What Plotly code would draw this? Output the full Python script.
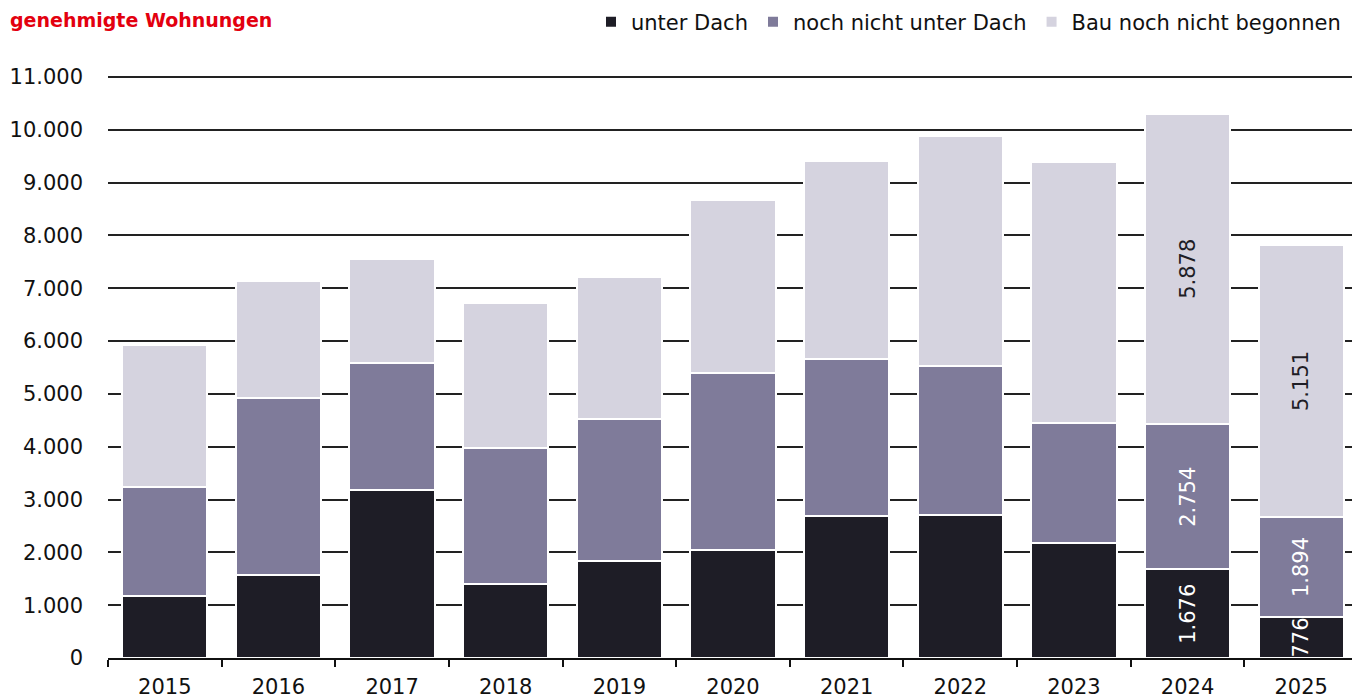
import plotly.graph_objects as go

# Genehmigte Wohnungen nach Baufortschritt
years = ["2015", "2016", "2017", "2018", "2019", "2020", "2021", "2022", "2023", "2024", "2025"]
unter_dach = [1175, 1570, 3180, 1400, 1840, 2050, 2690, 2710, 2180, 1676, 776]
noch_nicht_unter_dach = [2065, 3350, 2410, 2580, 2690, 3350, 2970, 2820, 2270, 2754, 1894]
bau_nicht_begonnen = [2690, 2220, 1970, 2740, 2690, 3270, 3750, 4360, 4940, 5878, 5151]

# only the latest two years carry value labels
labelled_years = {"2024", "2025"}

def fmt(v):
    return f"{v:,}".replace(",", ".")

def labels(values):
    return [fmt(v) if y in labelled_years else "" for y, v in zip(years, values)]

series = [
    ("unter Dach", unter_dach, "#1e1d26", "white"),
    ("noch nicht unter Dach", noch_nicht_unter_dach, "#7f7b9a", "white"),
    ("Bau noch nicht begonnen", bau_nicht_begonnen, "#d5d3df", "#1e1d26"),
]

FONT = "DejaVu Sans, Verdana, sans-serif"
FS = 21

fig = go.Figure()
for name, values, color, txtcolor in series:
    fig.add_trace(go.Bar(
        name=name,
        x=years,
        y=values,
        marker=dict(color=color, line=dict(color="white", width=2)),
        text=labels(values),
        textposition="inside",
        insidetextanchor="middle",
        textangle=-90,
        textfont=dict(family=FONT, size=FS, color=txtcolor),
        hoverinfo="x+y+name",
    ))

fig.update_layout(
    width=1352,
    height=699,
    barmode="stack",
    bargap=0.25,
    paper_bgcolor="white",
    plot_bgcolor="white",
    margin=dict(l=108, r=0, t=75, b=41),
    font=dict(family=FONT, size=FS, color="#111111"),
    uniformtext=dict(mode="show", minsize=FS),
    title=dict(
        text="<b>genehmigte Wohnungen</b>",
        x=10 / 1352,
        xanchor="left",
        xref="container",
        y=1 - 20 / 699,
        yanchor="middle",
        yref="container",
        font=dict(family=FONT, size=19, color="#e3000f"),
    ),
    legend=dict(
        orientation="h",
        x=1 - 6 / 1244,
        xanchor="right",
        y=1 + 53 / 583,
        yanchor="middle",
        font=dict(family=FONT, size=FS, color="#111111"),
        traceorder="normal",
        itemclick=False,
        itemdoubleclick=False,
    ),
    xaxis=dict(
        type="category",
        range=[-0.5, 10.447],
        showline=True,
        linecolor="#111111",
        linewidth=1.5,
        ticks="outside",
        tickson="boundaries",
        ticklen=7,
        tickcolor="#111111",
        tickwidth=1.5,
        showgrid=False,
        ticklabelstandoff=9,
        tickfont=dict(family=FONT, size=FS, color="#111111"),
    ),
    yaxis=dict(
        range=[0, 11038],
        tickvals=list(range(0, 11001, 1000)),
        ticktext=[fmt(v) for v in range(0, 11001, 1000)],
        showgrid=True,
        gridcolor="#222222",
        gridwidth=1.5,
        zeroline=False,
        showline=False,
        ticks="",
        ticklabelstandoff=24,
        tickfont=dict(family=FONT, size=FS, color="#111111"),
        fixedrange=True,
    ),
)

fig.write_html("out.html")
